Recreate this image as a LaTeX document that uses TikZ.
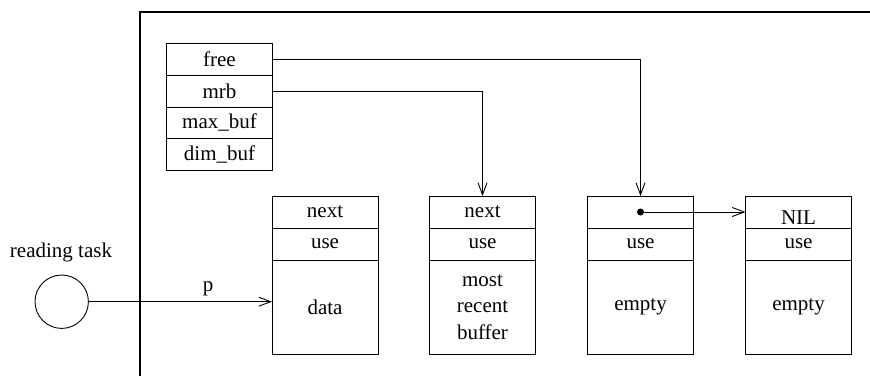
\documentclass[tikz,border=0pt]{standalone}
\usepackage{fontspec}
\setmainfont{Liberation Serif}
\usetikzlibrary{arrows.meta}
\begin{document}
\begin{tikzpicture}[x=1pt,y=-1pt,
  every node/.style={font=\fontsize{21}{26.5}\selectfont, inner sep=0pt, outer sep=0pt},
  ctl/.style={draw, line width=0.9pt, minimum width=105.5pt, minimum height=31.6pt},
  cell/.style={draw, line width=0.9pt, minimum width=106pt, minimum height=32pt},
  bodycell/.style={draw, line width=0.9pt, minimum width=106pt, minimum height=94pt, align=center},
  arr/.style={line width=0.9pt, -{Straight Barb[length=12pt,width=9pt]}},
  framebox/.style={line width=1.6pt}]
\useasboundingbox (0,0) rectangle (870,376);
% frame (open to the right and bottom)
\draw[framebox] (870,12) -- (140,12) -- (140,376);
% control block
\node[ctl] (free)   at (219.5,59.6)  {free};
\node[ctl] (mrb)    at (219.5,91.2)  {mrb};
\node[ctl] (maxbuf) at (219.5,122.8) {max\_buf};
\node[ctl] (dimbuf) at (219.5,154.4) {dim\_buf};
% buffer 1
\node[cell] (b1next) at (325,212) {next};
\node[cell] (b1use)  at (325,244) {use};
\node[bodycell] (b1body) at (325,307) {data};
% buffer 2
\node[cell] (b2next) at (482.5,212) {next};
\node[cell] (b2use)  at (482.5,244) {use};
\node[bodycell] (b2body) at (482.5,307) {most\\recent\\buffer};
% buffer 3
\node[cell] (b3next) at (640.5,212) {};
\node[cell] (b3use)  at (640.5,244) {use};
\node[bodycell] (b3body) at (640.5,307) {empty};
% buffer 4
\node[cell] (b4next) at (798.5,212) {\raisebox{-12pt}[0pt][0pt]{NIL}};
\node[cell] (b4use)  at (798.5,244) {use};
\node[bodycell] (b4body) at (798.5,307) {empty};
% pointers
\draw[arr] (free.east) -| (b3next.north);
\draw[arr] (mrb.east) -| (b2next.north);
\fill (b3next.center) circle[radius=3.5pt];
\draw[arr] (b3next.center) -- (b4next.west);
% reading task
\node[draw, circle, minimum size=53.4pt, line width=0.9pt] (task) at (61.7,301.7) {};
\node[anchor=base] (tasklabel) at (61,257) {reading task};
\draw[arr] (task.east) -- (task.east -| b1body.west);
\node[anchor=base] (plabel) at (208,291) {p};
\end{tikzpicture}
\end{document}
